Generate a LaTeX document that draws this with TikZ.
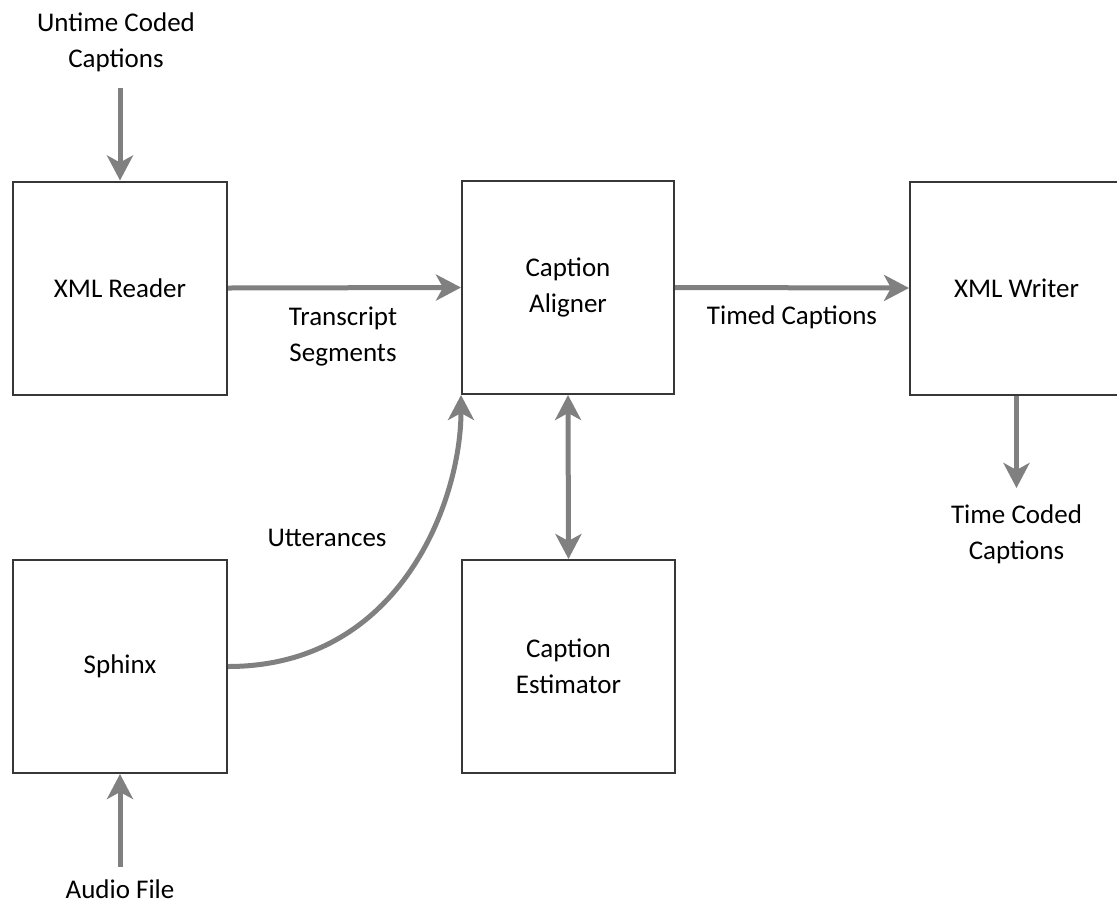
\documentclass[tikz,border=0pt]{standalone}
\usepackage{fontspec}
\setmainfont{Carlito}
\usetikzlibrary{arrows.meta}
\definecolor{arrgray}{RGB}{128,128,128}
\definecolor{boxline}{RGB}{55,55,55}
\tikzset{
  blockbox/.style={draw=boxline, line width=2pt, fill=white, minimum width=214pt, minimum height=213pt, inner sep=0pt, align=center, font=\fontsize{27}{36}\selectfont, text=black},
  lbl/.style={align=center, font=\fontsize{27}{36}\selectfont, text=black, inner sep=2pt},
  arr/.style={draw=arrgray, line width=5pt, -{Stealth[length=25pt, width=26pt, inset=7pt]}},
  dblarr/.style={draw=arrgray, line width=5pt, {Stealth[length=25pt, width=26pt, inset=7pt]}-{Stealth[length=25pt, width=26pt, inset=7pt]}}
}
\begin{document}
\begin{tikzpicture}[x=1pt,y=-1pt]
\useasboundingbox (0,0) rectangle (1117,906);
\clip (0,0) rectangle (1117,906);
\fill[white] (0,0) rectangle (1117,906);
% boxes
\node[blockbox] (reader) at (120,288) {XML Reader};
\node[blockbox, minimum width=212pt] (aligner) at (568,287.5) {Caption\\Aligner};
\node[blockbox, minimum width=213pt] (writer) at (1016.5,288) {XML Writer};
\node[blockbox] (sphinx) at (120,666.5) {Sphinx};
\node[blockbox, minimum width=213pt] (estimator) at (568.5,666.5) {Caption\\Estimator};
% labels
\node[lbl] (untime) at (116,42) {Untime Coded\\Captions};
\node[lbl] (transcript) at (343,337) {Transcript\\Segments};
\node[lbl] (timed) at (792,317) {Timed Captions};
\node[lbl] (timecoded) at (1016.5,534) {Time Coded\\Captions};
\node[lbl] (utter) at (327,538) {Utterances};
\node[lbl] (audio) at (120,889) {Audio File};
% connectors
\coordinate (untimeend) at (120,88);
\coordinate (audioend) at (120,867);
\coordinate (tcend) at (1016.5,488);
\draw[arr] (untimeend) -- (reader.north);
\draw[arr] (reader.east) -- (aligner.west);
\draw[arr] (aligner.east) -- (writer.west);
\draw[arr] (writer.south) -- (tcend);
\draw[dblarr] (aligner.south) -- (estimator.north);
\draw[arr] (audioend) -- (sphinx.south);
\draw[arr] (sphinx.east) .. controls +(173,0) and +(0,105) .. (aligner.south west);
\end{tikzpicture}
\end{document}
